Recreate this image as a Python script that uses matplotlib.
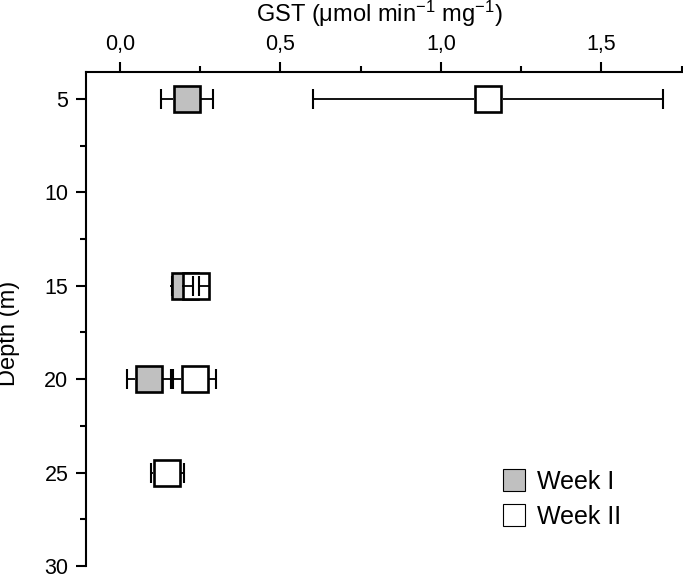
import matplotlib
matplotlib.use('Agg')
import matplotlib.pyplot as plt
import numpy as np
from matplotlib.ticker import MultipleLocator, FixedLocator, FuncFormatter
from matplotlib.lines import Line2D

# ---- data ----
depth = [5, 15, 20, 25]
week1_mean = [0.210, 0.202, 0.091, np.nan]
week1_err = [0.082, 0.040, 0.068, np.nan]
week2_mean = [1.148, 0.238, 0.234, 0.148]
week2_err = [0.545, 0.009, 0.067, 0.052]
x_major = [0.0, 0.5, 1.0, 1.5]
series_labels = ['Week I', 'Week II']

plt.rcParams['font.family'] = ['Liberation Sans', 'DejaVu Sans']
plt.rcParams['mathtext.fontset'] = 'custom'
plt.rcParams['mathtext.rm'] = 'Liberation Sans'
plt.rcParams['mathtext.it'] = 'Liberation Sans:italic'
plt.rcParams['mathtext.bf'] = 'Liberation Sans:bold'

W, H = 683, 574
fig = plt.figure(figsize=(W / 100, H / 100), dpi=100)
ax = fig.add_axes([86 / W, 8 / H, 595.7 / W, 494.3 / H])
ax.set_xlim(-0.105, 1.75)
ax.set_ylim(30, 3.55)

MS = 18.5
MEW = 1.9
CAP_MS = 14.4
ELW = 1.3


def draw_series(mean, err, face, z):
    d = np.asarray(depth, float)
    m = np.asarray(mean, float)
    e = np.asarray(err, float)
    ok = ~np.isnan(m)
    ax.plot(m[ok], d[ok], ls='none', marker='s', ms=MS, mfc=face,
            mec='black', mew=MEW, zorder=z, clip_on=False)
    # Origin-style error bars: arms run from the symbol edge to the caps
    px_per_unit = ax.transData.transform((1, 0))[0] - ax.transData.transform((0, 0))[0]
    hw = (MS + MEW) / 2 * fig.dpi / 72 / px_per_unit
    ok2 = ok & ~np.isnan(e)
    mm, dd, ee = m[ok2], d[ok2], e[ok2]
    ax.hlines(dd, mm - hw, mm - ee, colors='black', lw=ELW, zorder=z + 0.5)
    ax.hlines(dd, mm + hw, mm + ee, colors='black', lw=ELW, zorder=z + 0.5)
    ax.plot(np.concatenate([mm - ee, mm + ee]), np.concatenate([dd, dd]),
            ls='none', marker='|', ms=CAP_MS, mew=1.5, color='black', zorder=z + 0.5)


draw_series(week1_mean, week1_err, '#c0c0c0', 3)
draw_series(week2_mean, week2_err, 'white', 5)

# ---- axes styling ----
for s in ['bottom', 'right']:
    ax.spines[s].set_visible(False)
for s in ['top', 'left']:
    ax.spines[s].set_linewidth(1.5)

ax.xaxis.tick_top()
ax.xaxis.set_label_position('top')
ax.xaxis.set_major_locator(FixedLocator(x_major))
ax.xaxis.set_minor_locator(MultipleLocator(0.25))
ax.xaxis.set_major_formatter(FuncFormatter(lambda v, p: f'{v:.1f}'.replace('.', ',')))
ax.yaxis.set_major_locator(MultipleLocator(5))
ax.yaxis.set_minor_locator(MultipleLocator(2.5))
ax.yaxis.set_major_formatter(FuncFormatter(lambda v, p: f'{v:.0f}'))

ax.tick_params(axis='both', which='major', direction='out', length=7.2, width=1.5,
               labelsize=15.5, color='black')
ax.tick_params(axis='both', which='minor', direction='out', length=4.3, width=1.5)
ax.tick_params(axis='x', which='major', pad=4.5)
ax.tick_params(axis='y', which='major', pad=5.5)

ax.set_xlabel('GST (μmol min$^{-1}$ mg$^{-1}$)', fontsize=17)
ax.xaxis.set_label_coords((379 - 86) / 595.7, (566 - 22) / 494.3)
ax.set_ylabel('Depth (m)', fontsize=17)
ax.yaxis.set_label_coords((20 - 86) / 595.7, (566 - 333) / 494.3)

handles = [
    Line2D([], [], ls='none', marker='s', ms=16.5, mfc='#c0c0c0', mec='black', mew=0.8),
    Line2D([], [], ls='none', marker='s', ms=16.5, mfc='white', mec='black', mew=0.8),
]
ax.legend(handles, series_labels, loc='upper left',
          bbox_to_anchor=(502 / W, 1 - 470 / H), bbox_transform=fig.transFigure,
          frameon=False, fontsize=18, borderpad=0, borderaxespad=0,
          handlelength=0.95, handletextpad=0.45, labelspacing=0.42)

fig.savefig('out.png', dpi=100)
